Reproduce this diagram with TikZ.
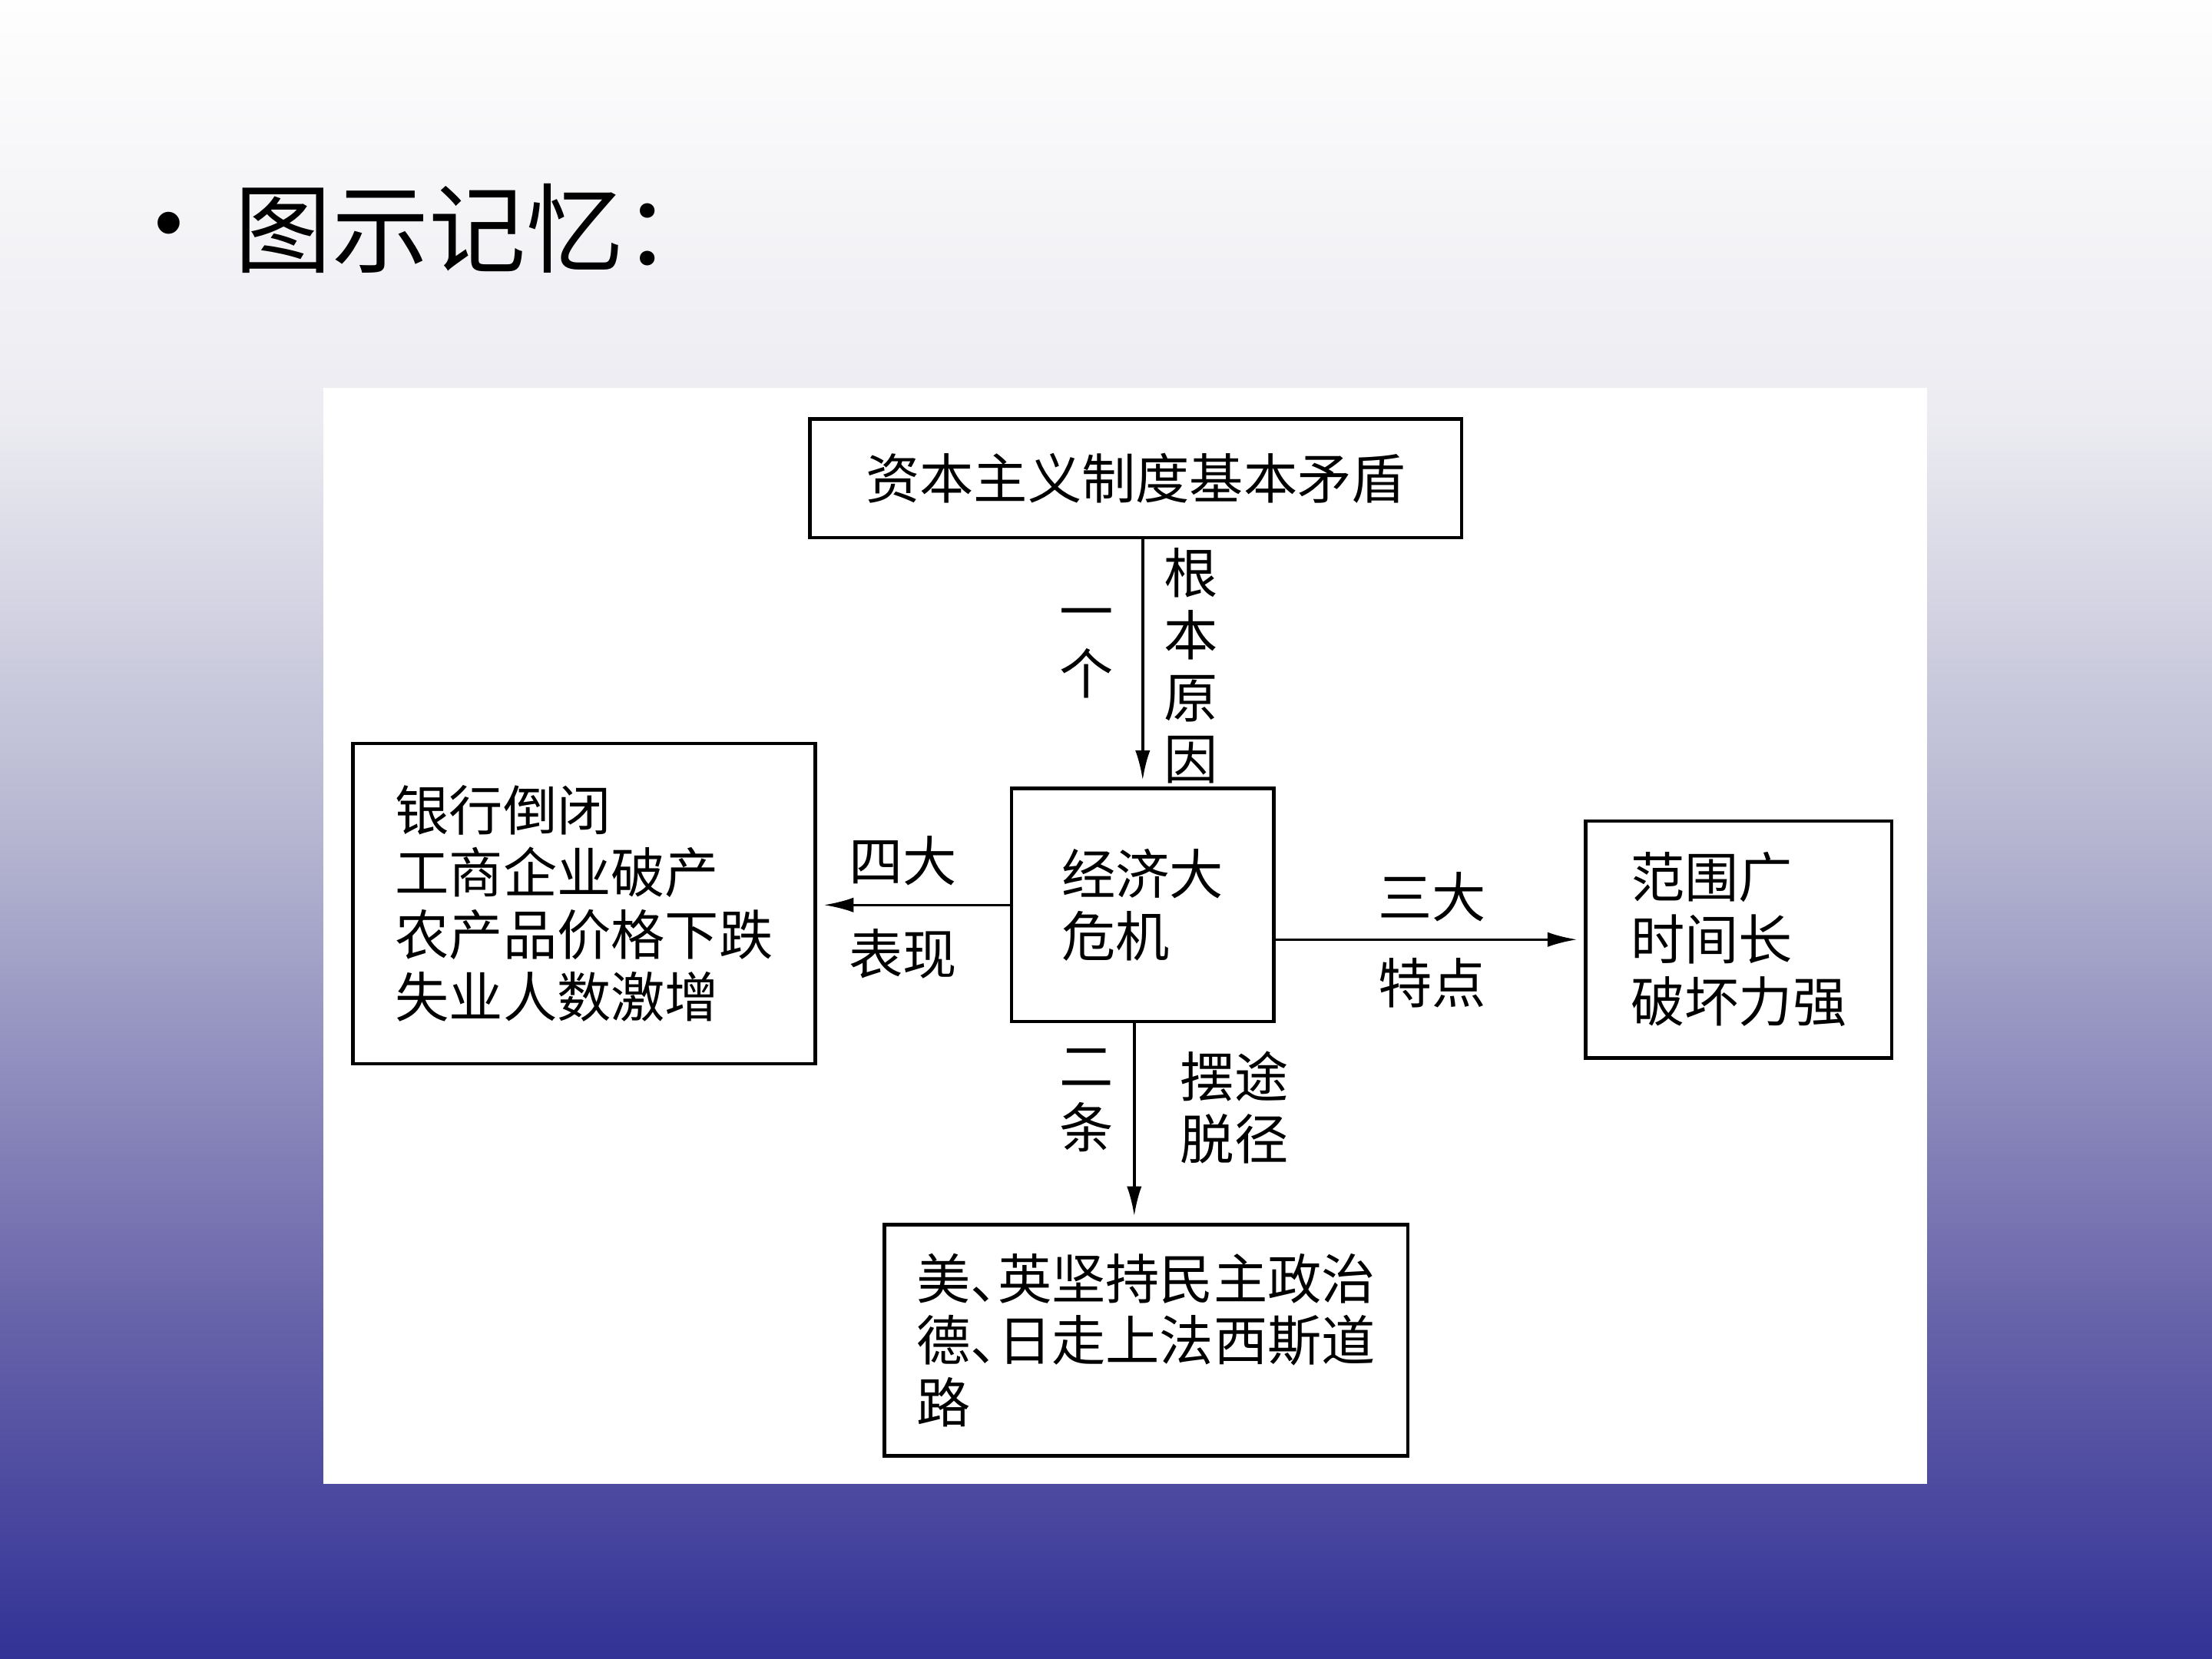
\documentclass[tikz,border=0pt]{standalone}
\usepackage{fontspec}
\setmainfont{Noto Sans CJK SC}
\newfontfamily\bulletfont{Liberation Sans}
\usetikzlibrary{arrows.meta}
\newcommand\halfcomma{\makebox[0.5em][l]{、}}

\begin{document}
\begin{tikzpicture}[x=0.018367cm, y=-0.018367cm,
        box/.style={draw=black, line width=1.3pt, align=left, inner sep=0pt, font=\fontsize{20}{23}\selectfont},
        lbl/.style={align=center, inner sep=0pt, font=\fontsize{20}{23}\selectfont},
        arr/.style={-{Latex[length=11pt,width=5.5pt]}, line width=1pt, shorten >=2.5pt}]
\definecolor{bgtop}{RGB}{254,254,254}
\definecolor{bgpale}{RGB}{235,235,241}
\definecolor{bglav}{RGB}{180,180,208}
\definecolor{bgmid}{RGB}{104,100,170}
\definecolor{bgdeep}{RGB}{50,50,150}
\useasboundingbox (0,0) rectangle (1568,1176);
\shade[top color=bgtop, bottom color=bgpale] (0,0) rectangle (1568,301);
\shade[top color=bgpale, bottom color=bglav] (0,300) rectangle (1568,601);
\shade[top color=bglav, bottom color=bgmid] (0,600) rectangle (1568,931);
\shade[top color=bgmid, bottom color=bgdeep] (0,930) rectangle (1568,1176);
\node[font=\bulletfont\fontsize{30}{30}\selectfont, inner sep=0pt] (bullet) at (120,164) {•};
\node[anchor=west, inner sep=0pt, font=\fontsize{36}{36}\selectfont] (title) at (166,162) {图示记忆：};
\fill[white] (229,275) rectangle (1366,1052);
\node[box, minimum width=8.486cm, minimum height=1.543cm] (root) at (805,339) {资本主义制度基本矛盾};
\node[box, minimum width=3.416cm, minimum height=3.031cm] (crisis) at (810,641.5) {经济大\\危机};
\node[box, minimum width=6.024cm, minimum height=4.169cm] (signs) at (414,640.5) {银行倒闭\\工商企业破产\\农产品价格下跌\\失业人数激增};
\node[box, minimum width=3.986cm, minimum height=3.086cm] (traits) at (1232.5,666) {范围广\\时间长\\破坏力强};
\node[box, minimum width=6.814cm, minimum height=3.012cm] (paths) at (812.5,950) {美\halfcomma 英坚持民主政治\\德\halfcomma 日走上法西斯道\\路};
\draw[arr] (root.south -| crisis.north) -- (crisis.north);
\draw[arr] (crisis.west) -- (crisis.west -| signs.east);
\draw[arr] (crisis.east |- traits.west) -- (traits.west);
\draw[arr] ([xshift=-0.11cm]crisis.south) -- ([xshift=-0.11cm]crisis.south |- paths.north);
\node[lbl] (one) at (770,463) {一\\个};
\node[lbl] (cause) at (844,472) {根\\本\\原\\因};
\node[lbl] (four) at (640,610) {四大};
\node[lbl] (show) at (640,676) {表现};
\node[lbl] (three) at (1015,636) {三大};
\node[lbl] (feature) at (1015,697) {特点};
\node[lbl] (two) at (770,780) {二\\条};
\node[lbl, align=left] (escape) at (875,785) {摆途\\脱径};
\end{tikzpicture}
\end{document}
